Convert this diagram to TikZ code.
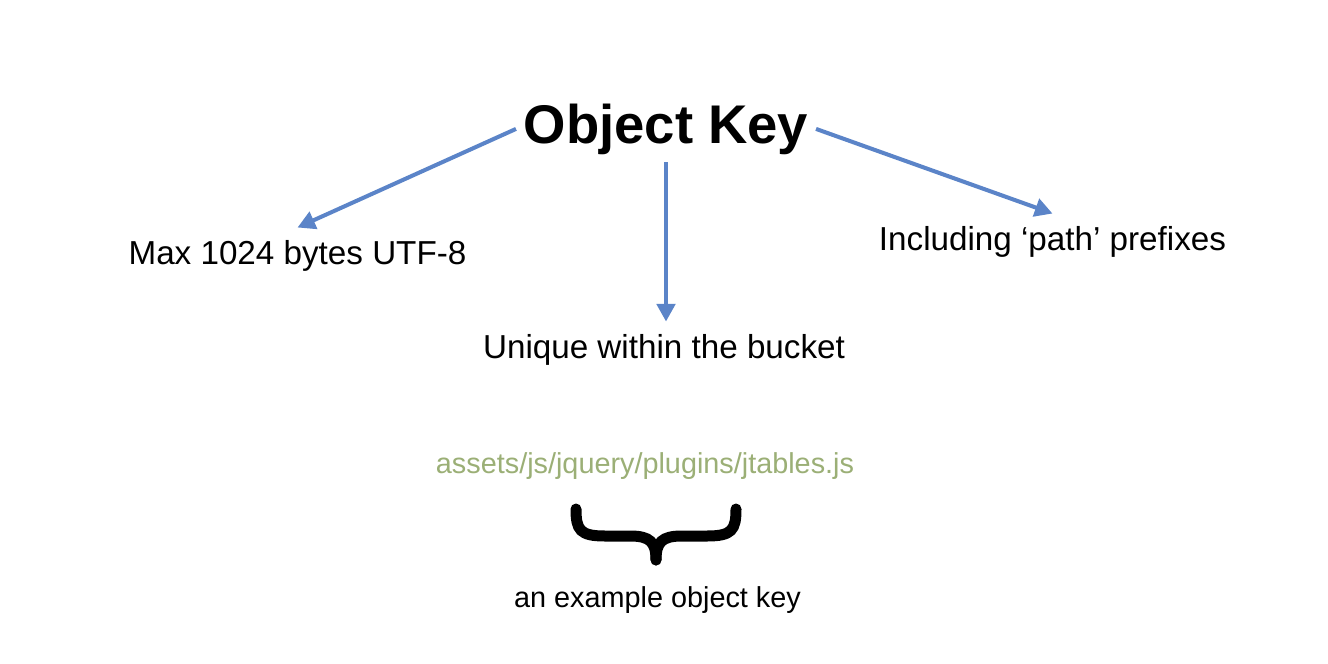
\documentclass[tikz,border=0pt]{standalone}
\usepackage{fontspec}
\setmainfont{Liberation Sans}
\usepackage{tikz}
\usetikzlibrary{arrows.meta,positioning}

\definecolor{arrowblue}{RGB}{91,132,200}
\definecolor{pathgreen}{RGB}{155,175,118}

\begin{document}
\begin{tikzpicture}[
    title/.style={font=\fontsize{15.5}{18}\selectfont\bfseries, inner sep=2pt},
    label/.style={font=\fontsize{9.45}{11}\selectfont, anchor=base},
    small/.style={font=\fontsize{8.2}{10}\selectfont, anchor=base},
    arrow/.style={->, >={Triangle[length=5pt, width=5.2pt]}, draw=arrowblue, line width=1.15pt},
    brace/.style={line width=0.11cm, line cap=round}
]
\useasboundingbox (0,0) rectangle (13.28,-6.64);

% Title
\node[title, anchor=base] (key) at (6.66, -1.43) {Object Key};

% Properties
\node[label] (maxlen) at (2.975, -2.64) {Max 1024 bytes UTF-8};
\node[label] (prefix) at (10.525, -2.50) {Including ‘path’ prefixes};
\node[label] (unique) at (6.64, -3.58) {Unique within the bucket};

\draw[arrow] (key.west) -- (maxlen.north);
\draw[arrow] (key.south) -- (key.south |- unique.north);
\draw[arrow] (key.east) -- (prefix.north);

% Example key
\node[small, text=pathgreen] (example) at (6.45, -4.73) {assets/js/jquery/plugins/jtables.js};
\node[small] (caption) at (6.575, -6.07) {an example object key};

\draw[brace] (5.76,-5.09) .. controls (5.76,-5.30) and (5.80,-5.36) .. (6.05,-5.36)
    -- (6.30,-5.36) .. controls (6.50,-5.36) and (6.56,-5.42) .. (6.56,-5.60);
\draw[brace] (7.36,-5.09) .. controls (7.36,-5.30) and (7.32,-5.36) .. (7.07,-5.36)
    -- (6.82,-5.36) .. controls (6.62,-5.36) and (6.56,-5.42) .. (6.56,-5.60);

\end{tikzpicture}
\end{document}
